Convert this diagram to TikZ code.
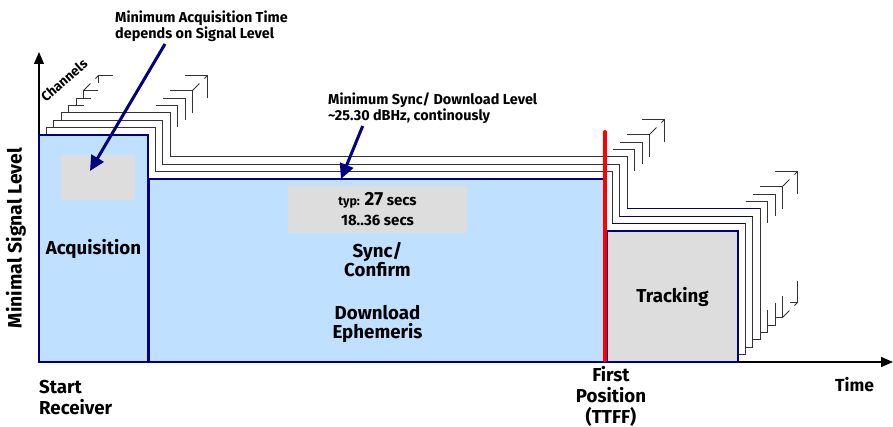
\documentclass[tikz,border=0pt]{standalone}
\usepackage{fontspec}
\setmainfont{Fira Sans}
\usetikzlibrary{arrows.meta,calc}
\definecolor{boxblue}{RGB}{192,224,255}
\definecolor{boxgray}{RGB}{221,221,221}
\definecolor{navy}{RGB}{0,0,128}

\begin{document}
\begin{tikzpicture}[x=1pt,y=-1pt,font=\bfseries,
  chan/.style={black!80,line width=0.9pt},
  phase/.style={draw=navy,line width=1.8pt},
  note/.style={font=\bfseries\fontsize{14.4}{16.4}\selectfont,align=left,inner sep=0pt},
  big/.style={font=\bfseries\fontsize{18.7}{21}\selectfont,inner sep=0pt},
  hint/.style={-{Triangle[length=15pt,width=14pt]},navy,line width=3pt}]
  \useasboundingbox (0,0) rectangle (893,427);
  % fading channels (corners only)
  \foreach \k in {8,6,5,4}{
    \pgfmathsetmacro\d{7.4*\k}
    \draw[chan] (39+\d+15,135-\d) -- (39+\d,135-\d) -- (39+\d,135-\d+7.4);
    \draw[chan] (148+\d-22,135-\d) -- (148+\d,135-\d) -- (148+\d,135-\d+22);
    \draw[chan] (605+\d-22,179-\d) -- (605+\d,179-\d) -- (605+\d,179-\d+22);
    \draw[chan] (738+\d-22,231-\d) -- (738+\d,231-\d) -- (738+\d,231-\d+22);
    \draw[chan] (738+\d-7.4,362-\d) -- (738+\d,362-\d) -- (738+\d,362-\d-22);
  }
  \foreach \cx/\cy in {39/135,148/135,605/179,738/231,738/362}
    \draw[chan,dash pattern=on 10pt off 7pt] (\cx+44.4,\cy-44.4) -- (\cx+59.2,\cy-59.2);
  % channels
  \foreach \k in {3,2,1}{
    \pgfmathsetmacro\d{7.4*\k}
    \draw[chan,fill=white] (39+\d,362-\d) -- (39+\d,135-\d) -- (148+\d,135-\d)
      -- (148+\d,179-\d) -- (605+\d,179-\d) -- (605+\d,231-\d)
      -- (738+\d,231-\d) -- (738+\d,362-\d) -- cycle;
    \draw[navy,line width=0.9pt] (605+\d,231-\d) -- (738+\d,231-\d);
  }
  % axes
  \coordinate (origin) at (39,362);
  \coordinate (ytip) at (39,52);
  \coordinate (xtip) at (893,362);
  \draw[line width=1.3pt,-{Triangle[length=12pt,width=10pt]}] (origin) -- (ytip);
  \draw[line width=1.3pt,-{Triangle[length=12pt,width=10pt]}] (origin) -- (xtip);
  % phases
  \fill[boxblue] (39,135) rectangle (148,362);
  \draw[phase] (39,135) rectangle (148,362);
  \fill[boxblue] (149.5,179) rectangle (605,362);
  \draw[phase] (149.5,179) rectangle (605,362);
  \fill[boxgray] (607,231) rectangle (738,362);
  \draw[phase] (607,231) rectangle (738,362);
  \fill[boxgray] (61,155) rectangle (135,200);
  \fill[boxgray] (288,186) rectangle (467,233);
  % first fix
  \draw[red,line width=4pt,line cap=round] (605,132) -- (605,360);
  % labels
  \node[big,anchor=base] (acq) at (93.5,255) {Acquisition};
  \node[big,anchor=base,align=center,font=\bfseries\fontsize{18.7}{19}\selectfont] (sync) at (377.5,338.3)
    {Sync/\\Confirm\\[23.6pt]Download\\Ephemeris};
  \node[big] (track) at (672.5,296.5) {Tracking};
  \node[anchor=base,inner sep=0pt,font=\bfseries\fontsize{15}{18}\selectfont] (typ) at (377.5,206)
    {{\fontsize{12.5}{14}\selectfont typ:} {\fontsize{19}{20}\selectfont 27} secs};
  \node[anchor=base,inner sep=0pt,font=\bfseries\fontsize{15}{18}\selectfont] (range) at (377.5,225.7) {18..36 secs};
  \node[big,rotate=90,font=\bfseries\fontsize{19.4}{21}\selectfont] (ylabel) at (16,238) {Minimal Signal Level};
  \node[inner sep=0pt,rotate=41,font=\bfseries\fontsize{13.5}{15}\selectfont] (chans) at (64,80) {Channels};
  \node[big,anchor=base west,align=left] (start) at (39,414) {Start\\Receiver};
  \node[big,anchor=base,align=center,font=\bfseries\fontsize{18.7}{20.7}\selectfont] (ttff) at (611,423)
    {First\\Position\\(TTFF)};
  \node[big,anchor=base west,font=\bfseries\fontsize{17.5}{20}\selectfont] (time) at (835,391.7) {Time};
  % notes
  \node[note,anchor=base west] (acqnote) at (115,39) {Minimum Acquisition Time\\depends on Signal Level};
  \node[note,anchor=base west] (syncnote) at (328,120.7) {Minimum Sync/ Download Level\\\textasciitilde25.30 dBHz, continously};
  \coordinate (acqfrom) at (165,44);
  \coordinate (acqto) at (90,171);
  \coordinate (syncfrom) at (362.7,126);
  \coordinate (syncto) at (341,179);
  \draw[hint] (acqfrom) -- (acqto);
  \draw[hint] (syncfrom) -- (syncto);
\end{tikzpicture}
\end{document}
